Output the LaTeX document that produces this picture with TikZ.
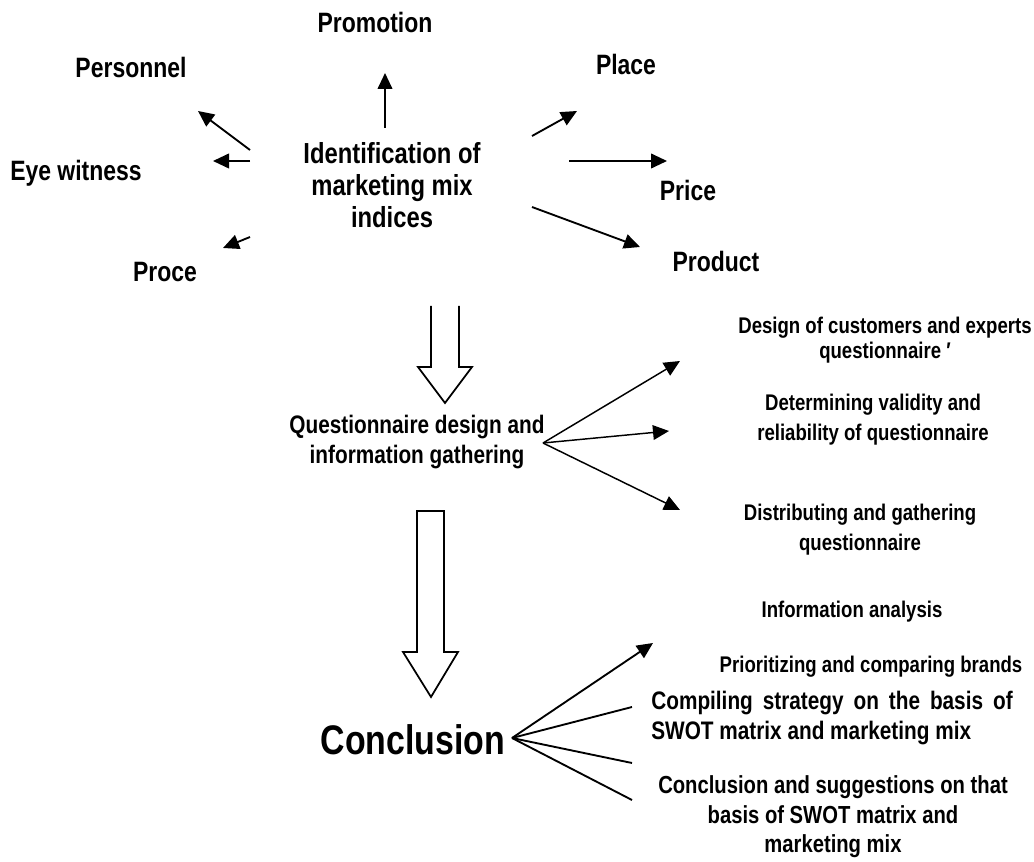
\documentclass[tikz,border=0pt]{standalone}
\usepackage{fontspec}
\setmainfont[FakeStretch=0.82]{Liberation Sans}
\usetikzlibrary{arrows.meta}

\tikzset{
  lbl/.style={font=\bfseries\fontsize{21}{25}\selectfont, inner sep=0pt},
  small/.style={font=\bfseries\fontsize{17}{19}\selectfont, align=center, inner sep=0pt},
  mid/.style={font=\bfseries\fontsize{19}{22}\selectfont, align=center, inner sep=0pt},
  arr/.style={line width=1.4pt, -{Triangle[length=12pt,width=11pt]}},
  thinarr/.style={line width=1.1pt, -{Triangle[length=12pt,width=11pt]}},
  hollow/.style={draw, line width=1.3pt, fill=white, line join=miter}
}

\begin{document}
\begin{tikzpicture}[x=0.75pt,y=-0.75pt]
\useasboundingbox (0,0) rectangle (1034,862);

% first step and its indices
\node[lbl, align=center, font=\bfseries\fontsize{21.75}{24}\selectfont] (ident) at (392,185) {Identification of\\marketing mix\\indices};
\node[lbl] (prom) at (375,22) {Promotion};
\node[lbl] (pers) at (131,67) {Personnel};
\node[lbl] (eye) at (76,173) {Eye witness};
\node[lbl] (proce) at (165,272) {Proce};
\node[lbl] (place) at (626,64) {Place};
\node[lbl] (price) at (688,190) {Price};
\node[lbl] (prod) at (716,261) {Product};

\coordinate (promA) at (385,128);  \coordinate (promB) at (385,73);
\coordinate (persA) at (250,150);  \coordinate (persB) at (198,111);
\coordinate (eyeA) at (250,161);   \coordinate (eyeB) at (213,161);
\coordinate (proceA) at (250,237); \coordinate (proceB) at (223,248);
\coordinate (placeA) at (532,136); \coordinate (placeB) at (577,111);
\coordinate (priceA) at (569,161); \coordinate (priceB) at (667,161);
\coordinate (prodA) at (532,207);  \coordinate (prodB) at (640,247);

\foreach \n in {prom,pers,eye,proce,place,price,prod}
  \draw[arr] (\n A) -- (\n B);

% hollow arrow down to the questionnaire
\draw[hollow] (431,306) -- (431,367) -- (418,367) -- (445,403) -- (472,367) -- (459,367) -- (459,306);

% questionnaire step
\node[mid] (quest) at (417,442) {Questionnaire design and\\information gathering};
\node[small] (des) at (885,340) {Design of customers and experts\\questionnaire ′};
\node[small, font=\bfseries\fontsize{17}{22.5}\selectfont] (valid) at (873,420) {Determining validity and\\reliability of questionnaire};
\node[small, font=\bfseries\fontsize{17}{22.5}\selectfont] (distr) at (860,530) {Distributing and gathering\\questionnaire};

\coordinate (qs) at (543,443);
\coordinate (desB) at (680,361);
\coordinate (validB) at (669,431);
\coordinate (distrB) at (680,510);
\foreach \n in {des,valid,distr}
  \draw[thinarr] (qs) -- (\n B);

% hollow arrow down to the conclusion
\draw[hollow] (417,511) -- (417,652) -- (403,652) -- (431,697) -- (458,652) -- (444,652) -- (444,511) -- cycle;

% conclusion step
\node[lbl, font=\bfseries\fontsize{31}{36}\selectfont] (concl) at (413,740) {Conclusion};
\node[small] (info) at (852,612) {Information analysis};
\node[small] (prior) at (871,667) {Prioritizing and comparing brands};
\node[mid, align=justify, text width=271pt] (comp) at (832,718) {Compiling strategy on the basis of\linebreak SWOT matrix and marketing mix};
\node[mid, font=\bfseries\fontsize{18.5}{22}\selectfont] (sugg) at (833,817) {Conclusion and suggestions on that\\basis of SWOT matrix and\\marketing mix};

\coordinate (cs) at (512,738);
\coordinate (c1) at (653,643);
\coordinate (c2) at (632,707);
\coordinate (c3) at (632,763);
\coordinate (c4) at (632,800);
\draw[arr] (cs) -- (c1);
\foreach \n in {c2,c3,c4}
  \draw[line width=1.4pt] (cs) -- (\n);

\end{tikzpicture}
\end{document}
